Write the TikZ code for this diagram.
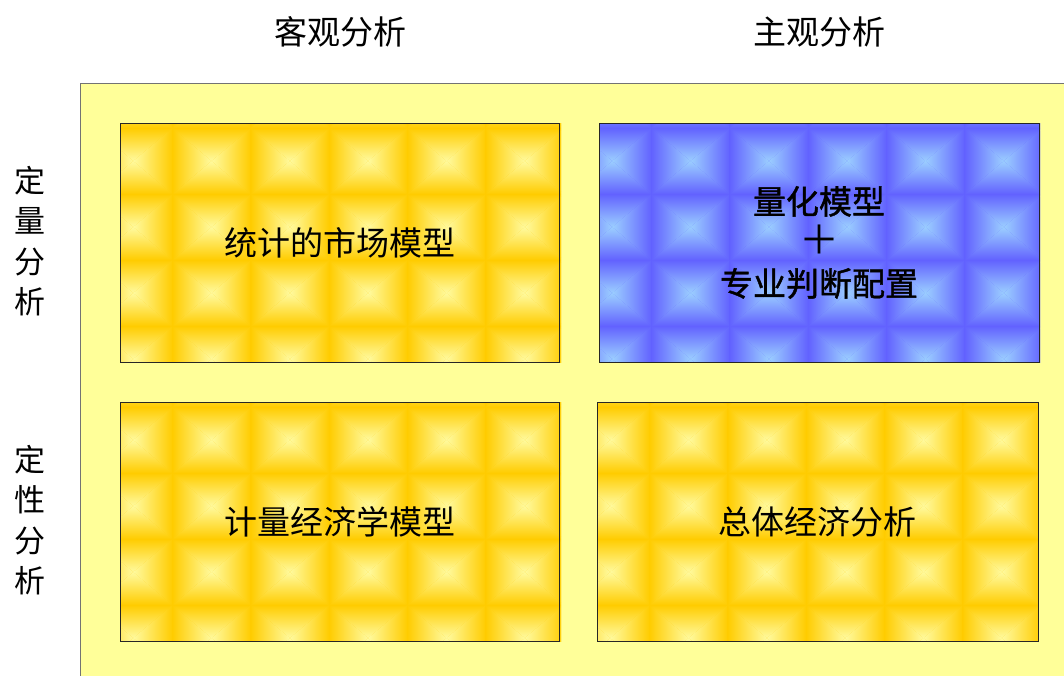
\documentclass[tikz,border=0pt]{standalone}
\usepackage{fontspec}
\newfontfamily\cjk{Noto Sans CJK SC}
\newfontfamily\cjkfb[FakeBold=1.3]{Noto Sans CJK SC}
\definecolor{bgyellow}{HTML}{FFFF99}
\definecolor{golddark}{HTML}{FFCC00}
\definecolor{goldlight}{HTML}{FFFA9E}
\definecolor{bluedark}{HTML}{6262FF}
\definecolor{bluelight}{HTML}{9BCEFF}
\newcommand\tileset[4]{%
  \begin{scope}
    \clip (#1,#2) rectangle ++(441,239);
    \foreach \i in {0,...,5}{
      \foreach \j in {0,...,4}{
        \pgfmathsetmacro\tx{#1-25.9+78.3*\i}
        \pgfmathsetmacro\ty{#2-61+66*\j}
        \fill[#3] (\tx,\ty) rectangle ++(78.3,66);
        \shade[top color=#3, bottom color=#4] (\tx,\ty) -- (\tx+78.3,\ty) -- (\tx+39.15,\ty+33) -- cycle;
        \shade[top color=#4, bottom color=#3] (\tx,\ty+66) -- (\tx+78.3,\ty+66) -- (\tx+39.15,\ty+33) -- cycle;
        \shade[left color=#3, right color=#4] (\tx,\ty) -- (\tx,\ty+66) -- (\tx+39.15,\ty+33) -- cycle;
        \shade[left color=#4, right color=#3] (\tx+78.3,\ty) -- (\tx+78.3,\ty+66) -- (\tx+39.15,\ty+33) -- cycle;
      }
    }
  \end{scope}}
\tikzset{
  toplbl/.style={font=\cjk\fontsize{33}{40}\selectfont, inner sep=0pt},
  sidelbl/.style={font=\cjk\fontsize{31}{40.5}\selectfont, align=center, inner sep=0pt},
  boxnode/.style={draw=black!85, line width=0.9pt, minimum width=439pt, minimum height=239pt,
    inner sep=0pt, align=center, font=\cjk\fontsize{33}{41}\selectfont},
}
\begin{document}
\begin{tikzpicture}[x=1pt,y=-1pt]
  \useasboundingbox (0,0) rectangle (1064,675);
  \clip (0,0) rectangle (1064,675);
  \filldraw[fill=bgyellow, draw=black!55, line width=1pt] (80.5,83.5) rectangle (1080,700);
  % tiles
  \tileset{120}{123}{golddark}{goldlight}
  \tileset{599}{123}{bluedark}{bluelight}
  \tileset{120}{402}{golddark}{goldlight}
  \tileset{597}{402}{golddark}{goldlight}
  % boxes
  \node[boxnode] (stat) at (339.5,242.5) {统计的市场模型};
  \node[boxnode, minimum width=440pt] (quant) at (819,242.5) {\cjkfb 量化模型\\{\cjk\fontsize{40}{41}\selectfont ＋}\\\cjkfb 专业判断配置};
  \node[boxnode] (econ) at (339.5,521.5) {计量经济学模型};
  \node[boxnode, minimum width=441pt] (macro) at (817.5,521.5) {总体经济分析};
  % labels
  \node[toplbl] (obj) at (340,32) {客观分析};
  \node[toplbl] (subj) at (819,32) {主观分析};
  \node[sidelbl] (qn) at (30,241) {定\\量\\分\\析};
  \node[sidelbl] (ql) at (30,520) {定\\性\\分\\析};
\end{tikzpicture}
\end{document}
